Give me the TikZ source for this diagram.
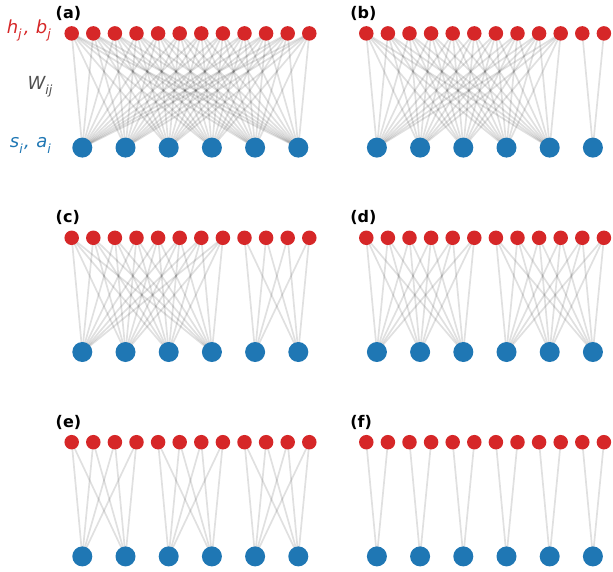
\documentclass[tikz,border=0pt]{standalone}
\usepackage{fontspec}
\setmainfont{DejaVu Sans}
\usetikzlibrary{backgrounds}
\definecolor{tred}{HTML}{D62728}
\definecolor{tblue}{HTML}{1F77B4}
\definecolor{wgray}{HTML}{505050}
\newcommand\mysub[1]{\raisebox{-0.55ex}{\fontsize{12.6}{13}\selectfont\itshape #1}}
\begin{document}
\begin{tikzpicture}[x=1pt,y=-1pt,
 hid/.style={circle,fill=tred,inner sep=0pt,minimum size=14.5pt},
 vis/.style={circle,fill=tblue,inner sep=0pt,minimum size=20pt},
 wire/.style={draw=black,opacity=0.12,line width=1.7pt},
 plabel/.style={font=\fontsize{16}{19}\selectfont\bfseries,anchor=west,inner sep=0pt},
 side/.style={font=\fontsize{18}{21}\selectfont,anchor=east,inner sep=0pt}]
\useasboundingbox (0,0) rectangle (613,572);
\foreach \p/\ox/\oy/\blocks in {a/0/0/{1/6}, b/294.6/0/{1/5,6/6}, c/0/204.4/{1/4,5/6}, d/294.6/204.4/{1/3,4/6}, e/0/408.8/{1/2,3/4,5/6}, f/294.6/408.8/{1/1,2/2,3/3,4/4,5/5,6/6}}{
  \node[plabel] (lab-\p) at (55.5+\ox,13.5+\oy) {(\p)};
  \foreach \j in {1,...,12}{
    \node[hid] (h-\p-\j) at ({71.7+21.6*(\j-1)+\ox},{33.4+\oy}) {};
  }
  \foreach \i in {1,...,6}{
    \node[vis] (s-\p-\i) at ({82.3+43.2*(\i-1)+\ox},{147.6+\oy}) {};
  }
  \begin{scope}[on background layer]
  \foreach \f/\l in \blocks{
    \pgfmathtruncatemacro\jf{2*\f-1}
    \pgfmathtruncatemacro\jl{2*\l}
    \foreach \i in {\f,...,\l}{
      \foreach \j in {\jf,...,\jl}{
        \draw[wire] (h-\p-\j.center) -- (s-\p-\i.center);
      }
    }
  }
  \end{scope}
}
\node[side,text=tred] (lh) at (51,30.5) {\itshape h\mysub{j}\kern0.12em,\hspace{0.35em}b\mysub{j}};
\node[side,text=wgray] (lw) at (52.5,86.5) {\itshape W\mysub{ij}};
\node[side,text=tblue] (ls) at (51,145.5) {\itshape s\mysub{i}\kern0.08em,\hspace{0.35em}a\mysub{i}};
\end{tikzpicture}
\end{document}
